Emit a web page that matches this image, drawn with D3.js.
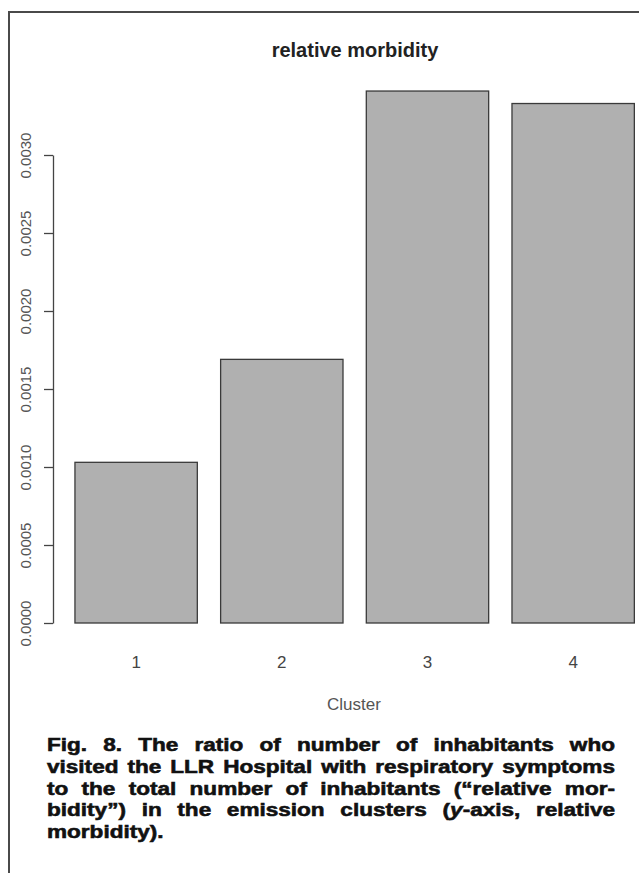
<!DOCTYPE html>
<html>
<head>
<meta charset="utf-8">
<script src="https://cdnjs.cloudflare.com/ajax/libs/d3/7.8.5/d3.min.js"></script>
<style>
  body { margin: 0; background: #fff; }
  svg { display: block; }
</style>
</head>
<body>
<div id="chart"></div>
<script>
// ---- data ----
var clusters = ["1", "2", "3", "4"];
var morbidity = [0.00103, 0.00169, 0.00341, 0.00333];
var yTicks = [0, 0.0005, 0.0010, 0.0015, 0.0020, 0.0025, 0.0030];
var chartTitle = "relative morbidity";
var xTitle = "Cluster";
var captionLines = [
  "Fig. 8. The ratio of number of inhabitants who",
  "visited the LLR Hospital with respiratory symptoms",
  "to the total number of inhabitants (\u201Crelative mor-",
  "bidity\u201D) in the emission clusters (y-axis, relative",
  "morbidity)."
];

// ---- sizes ----
var svgWidth = 639, svgHeight = 873;

var svg = d3.select("#chart").append("svg")
  .attr("width", svgWidth)
  .attr("height", svgHeight);

svg.append("rect").attr("width", svgWidth).attr("height", svgHeight).attr("fill", "#fff");

// frame (top + left border of the figure box)
svg.append("path")
  .attr("d", "M9,873 V12 H639")
  .attr("fill", "none")
  .attr("stroke", "#4a4a4a")
  .attr("stroke-width", 2);

// ---- scales ----
var x = d3.scaleBand()
  .domain(clusters)
  .range([63.3, 646])
  .paddingInner(0.16)
  .paddingOuter(0.08);

var y = d3.scaleLinear()
  .domain([0, 0.003])
  .range([623, 155]);

// ---- bars ----
svg.selectAll("rect.bar")
  .data(clusters)
  .enter()
  .append("rect")
  .attr("class", "bar")
  .attr("x", d => x(d))
  .attr("width", x.bandwidth())
  .attr("y", (d, i) => y(morbidity[i]))
  .attr("height", (d, i) => y(0) - y(morbidity[i]))
  .attr("fill", "#b0b0b0")
  .attr("stroke", "#3a3a3a")
  .attr("stroke-width", 1.3);

// ---- y axis (R style, rotated labels) ----
var yAxis = svg.append("g")
  .attr("transform", "translate(53,0)")
  .call(d3.axisLeft(y).tickValues(yTicks).tickSize(9).tickSizeOuter(0).tickFormat(d3.format(".4f")));

yAxis.select(".domain").attr("stroke", "#444").attr("stroke-width", 1.3);
yAxis.selectAll(".tick line").attr("stroke", "#444").attr("stroke-width", 1.3);
yAxis.selectAll(".tick text")
  .attr("transform", "rotate(-90)")
  .attr("x", 0)
  .attr("y", -22)
  .attr("dy", 0)
  .attr("text-anchor", "middle")
  .attr("fill", "#555")
  .style("font-family", "Liberation Sans, Arial, sans-serif")
  .style("font-size", "15px");

// ---- x tick labels ----
svg.selectAll("text.xlab")
  .data(clusters)
  .enter()
  .append("text")
  .attr("class", "xlab")
  .attr("x", d => x(d) + x.bandwidth() / 2)
  .attr("y", 668)
  .attr("text-anchor", "middle")
  .attr("fill", "#444")
  .style("font-family", "Liberation Sans, Arial, sans-serif")
  .style("font-size", "17px")
  .text(d => d);

// ---- titles ----
svg.append("text")
  .attr("x", 355)
  .attr("y", 57)
  .attr("text-anchor", "middle")
  .attr("fill", "#222")
  .style("font-family", "Liberation Sans, Arial, sans-serif")
  .style("font-size", "20px")
  .style("font-weight", "bold")
  .text(chartTitle);

svg.append("text")
  .attr("x", 354)
  .attr("y", 710)
  .attr("text-anchor", "middle")
  .attr("fill", "#555")
  .style("font-family", "Liberation Sans, Arial, sans-serif")
  .style("font-size", "17px")
  .text(xTitle);

// ---- caption, justified by hand ----
var capLeft = 47, capRight = 615, capTop = 751, capStep = 21.8;
var capSize = 19.2;
var capGroup = svg.append("g")
  .style("font-family", "Liberation Sans, Arial, sans-serif")
  .style("font-weight", "bold")
  .style("font-size", capSize + "px")
  .attr("fill", "#111")
  .attr("stroke", "#111")
  .attr("stroke-width", 0.6);

var addWord = (g, word) => {
  var t = g.append("text");
  // italic "y" in "(y-axis,"
  var m = word.match(/^\((y)(-axis,)$/);
  if (m) {
    t.append("tspan").text("(");
    t.append("tspan").style("font-style", "italic").text("y");
    t.append("tspan").text("-axis,");
  } else {
    t.text(word);
  }
  return t;
};

var lines = captionLines.map((line, li) => {
  var words = line.split(" ").map(w => addWord(capGroup, w));
  var widths = words.map(t => t.node().getComputedTextLength());
  return { li, words, widths };
});

// stretch the wide caption face so the tightest line keeps ~9px word gaps
var gapMin = 9;
var sx = d3.min(lines.slice(0, -1), l =>
  (capRight - capLeft - gapMin * (l.words.length - 1)) / d3.sum(l.widths));
capGroup.attr("transform", `translate(${capLeft},0) scale(${sx},1)`);
var lineW = (capRight - capLeft) / sx;

lines.forEach(l => {
  var last = l.li === lines.length - 1;
  var gap = last ? gapMin / sx :
    (lineW - d3.sum(l.widths)) / (l.words.length - 1);
  var cx = 0;
  l.words.forEach((t, i) => {
    t.attr("x", cx).attr("y", capTop + l.li * capStep);
    cx += l.widths[i] + gap;
  });
});
</script>
</body>
</html>
